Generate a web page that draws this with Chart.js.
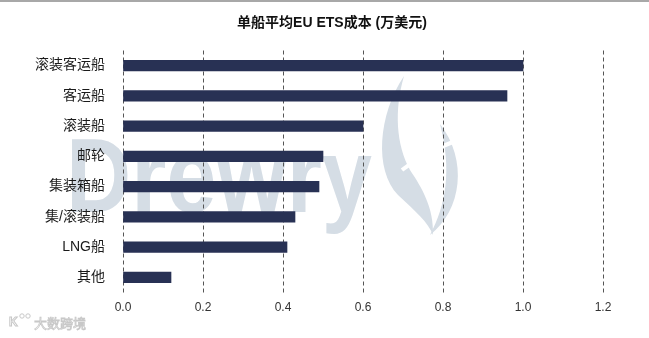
<!DOCTYPE html>
<html>
<head>
<meta charset="utf-8">
<script src="https://cdn.jsdelivr.net/npm/chart.js@4"></script>
<style>
html,body{margin:0;padding:0;background:#fff;}
#wrap{position:relative;width:649px;height:338px;}
</style>
</head>
<body>
<div id="wrap"><canvas id="c" width="649" height="338"></canvas></div>
<script>
const categories = ['滚装客运船','客运船','滚装船','邮轮','集装箱船','集/滚装船','LNG船','其他'];
const costValues = [1.0, 0.96, 0.60, 0.50, 0.49, 0.43, 0.41, 0.12];
const xTicks = [0.0, 0.2, 0.4, 0.6, 0.8, 1.0, 1.2];
const titleText = '单船平均EU ETS成本 (万美元)';
const watermarkText = 'Drewry';
const logoText = '大数跨境';

const FONT = '"Liberation Sans", Arial, "Noto Sans CJK SC", sans-serif';

const decor = {
  id: 'decor',
  beforeDraw(chart) {
    const ctx = chart.ctx;
    ctx.save();
    ctx.fillStyle = '#fff';
    ctx.fillRect(0, 0, chart.width, chart.height);
    // top grey rule
    ctx.fillStyle = '#a8a8a8';
    ctx.fillRect(0, 0, chart.width, 2);
    // watermark text
    ctx.fillStyle = '#d5dde5';
    ctx.font = 'bold 106px "Liberation Sans", Arial, sans-serif';
    ctx.textBaseline = 'alphabetic';
    const w = ctx.measureText(watermarkText).width;
    ctx.translate(66, 212);
    ctx.scale(306 / w, 1);
    ctx.fillText(watermarkText, 0, 0);
    ctx.restore();
    // flame shapes
    ctx.save();
    ctx.fillStyle = '#d5dde5';
    ctx.beginPath();
    ctx.moveTo(404, 76);
    ctx.bezierCurveTo(378, 115, 374, 170, 398, 195);
    ctx.bezierCurveTo(416, 212, 428, 222, 433, 235);
    ctx.bezierCurveTo(434, 208, 422, 188, 410, 170);
    ctx.bezierCurveTo(396, 145, 394, 110, 404, 76);
    ctx.fill();
    ctx.beginPath();
    ctx.moveTo(440, 124);
    ctx.bezierCurveTo(468, 160, 462, 210, 430, 235);
    ctx.bezierCurveTo(446, 205, 452, 170, 440, 124);
    ctx.fill();
    ctx.strokeStyle = '#fff';
    ctx.lineWidth = 4;
    ctx.beginPath();
    ctx.moveTo(402, 170);
    ctx.quadraticCurveTo(425, 152, 458, 140);
    ctx.stroke();
    // bottom-left logo
    ctx.strokeStyle = '#c8c8c8';
    ctx.lineWidth = 1;
    ctx.font = 'bold 12px "Liberation Sans", Arial, sans-serif';
    ctx.textBaseline = 'middle';
    ctx.strokeText('K', 9, 323);
    ctx.beginPath(); ctx.arc(22, 316, 2.2, 0, Math.PI * 2); ctx.stroke();
    ctx.beginPath(); ctx.arc(28, 316, 2.2, 0, Math.PI * 2); ctx.stroke();
    ctx.font = '13px "Noto Sans CJK SC", sans-serif';
    ctx.lineWidth = 0.8;
    ctx.strokeText(logoText, 34, 323);
    ctx.restore();
  },
  afterDraw(chart) {
    const ctx = chart.ctx;
    ctx.save();
    ctx.fillStyle = '#111';
    ctx.font = 'bold 14px ' + FONT;
    ctx.textAlign = 'center';
    ctx.textBaseline = 'middle';
    ctx.fillText(titleText, 332, 23);
    ctx.restore();
  }
};

new Chart(document.getElementById('c'), {
  type: 'bar',
  data: {
    labels: categories,
    datasets: [{
      data: costValues,
      backgroundColor: '#283154',
      borderWidth: 0,
      barThickness: 10.5
    }]
  },
  plugins: [decor],
  options: {
    indexAxis: 'y',
    responsive: false,
    animation: false,
    devicePixelRatio: 1,
    layout: { padding: { top: 50.5, right: 46, left: 0, bottom: 0 } },
    plugins: {
      legend: { display: false },
      title: { display: false },
      tooltip: { enabled: false }
    },
    scales: {
      x: {
        min: 0,
        max: 1.2,
        afterBuildTicks(scale) { scale.ticks = xTicks.map(v => ({ value: v })); },
        afterFit(scale) { scale.height = 45.5; },
        border: { display: false, dash: [4, 3] },
        grid: {
          drawTicks: false,
          color: '#555',
          lineWidth: 1
        },
        ticks: {
          padding: 8,
          color: '#333',
          font: { size: 12, family: FONT },
          callback: (v) => Number(v).toFixed(1)
        }
      },
      y: {
        afterFit(scale) { scale.width = 123; },
        border: { display: false },
        grid: { display: false, drawTicks: false },
        ticks: {
          padding: 18,
          color: '#1a1a1a',
          font: { size: 14, family: FONT }
        }
      }
    }
  }
});
</script>
</body>
</html>
